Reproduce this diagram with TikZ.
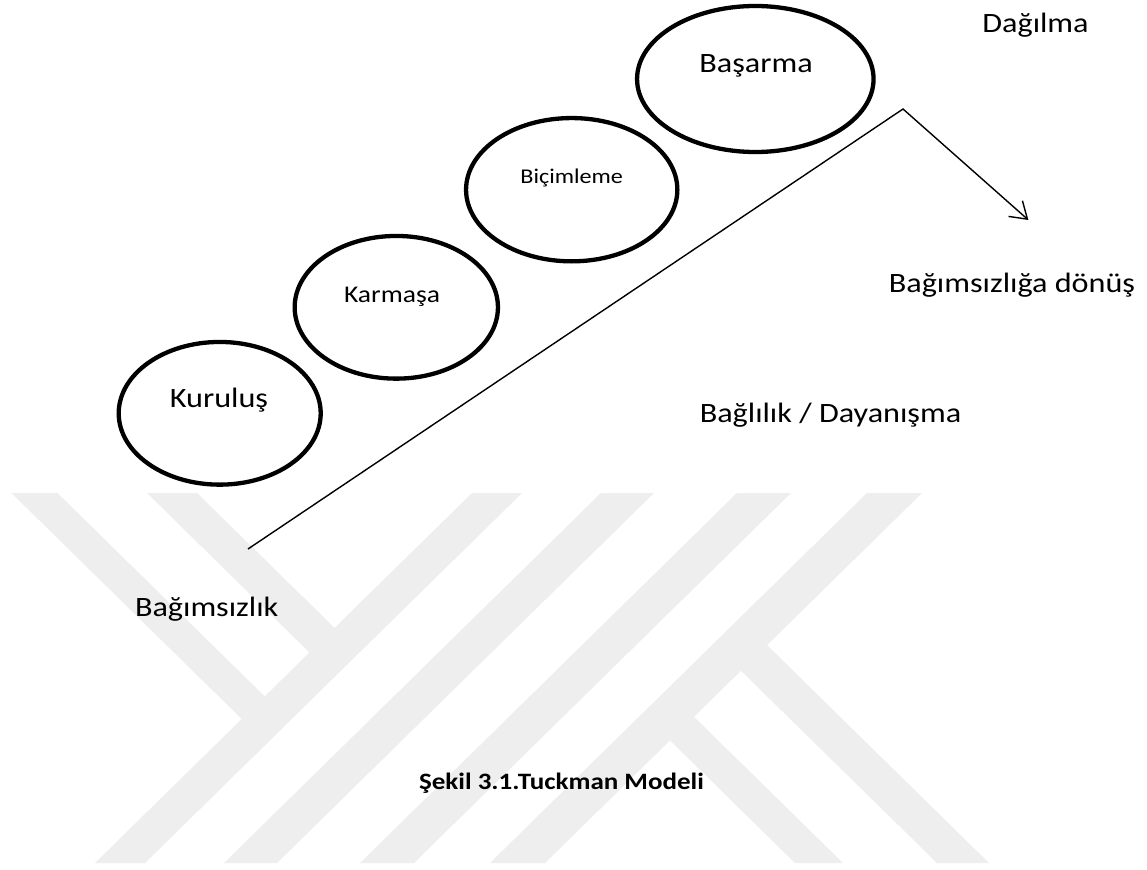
\documentclass[tikz,border=0pt]{standalone}
\usepackage{fontspec}
\setmainfont{Carlito}[FakeStretch=1.15]
\usetikzlibrary{shapes.geometric,arrows.meta}
\definecolor{wmark}{RGB}{238,238,238}
\tikzset{
  stage/.style={draw=black, line width=4.3pt, ellipse, inner sep=0pt, fill=none},
  lab/.style={anchor=base, inner sep=0pt, font=\fontsize{28}{33}\selectfont},
  wm/.style={fill=wmark, draw=none},
  conn/.style={draw=black, line width=1.4pt}
}
\begin{document}
\begin{tikzpicture}[x=1pt,y=-1pt]
\useasboundingbox (0,0) rectangle (1147,869);
\fill[white] (0,0) rectangle (1147,869);
% watermark
\fill[wm] (11.5,493) -- (57.4,493) -- (264.7,696.4) -- (241.75,719) -- cycle;
\fill[wm] (147,493) -- (197,493) -- (334.5,627.9) -- (309.5,652.5) -- cycle;
\fill[wm] (472,493) -- (522,493) -- (145,863) -- (95,863) -- cycle;
\fill[wm] (601,493) -- (654,493) -- (277,863) -- (224,863) -- cycle;
\fill[wm] (737,493) -- (791,493) -- (414,863) -- (360,863) -- cycle;
\fill[wm] (867,493) -- (922,493) -- (545,863) -- (490,863) -- cycle;
\fill[wm] (767,645.1) -- (989,863) -- (937,863) -- (740.9,670.7) -- cycle;
\fill[wm] (693.9,716.8) -- (843,863) -- (795,863) -- (670,740.3) -- cycle;
% stages
\node[stage, minimum width=202pt, minimum height=142.7pt] (kur) at (219.7,413.3) {};
\node[stage, minimum width=203.3pt, minimum height=142.7pt] (kar) at (396.3,307.3) {};
\node[stage, minimum width=211.3pt, minimum height=143.3pt] (bic) at (571.7,189.7) {};
\node[stage, minimum width=236.5pt, minimum height=146pt] (bas) at (755.3,79) {};
\node[lab] (kurt) at (219,407.7) {Kuruluş};
\node[lab, font=\fontsize{24}{29}\selectfont] (kart) at (392,302.3) {Karmaşa};
\node[lab, font=\fontsize{21}{25}\selectfont] (bict) at (571.7,183.3) {Biçimleme};
\node[lab] (bast) at (756,72.7) {Başarma};
% connectors
\coordinate (lo) at (248,549);
\coordinate (apex) at (903,109);
\coordinate (tip) at (1028.4,220);
\draw[conn, -{Straight Barb[length=16pt,width=21pt,line width=1.4pt]}] (lo) -- (apex) -- (tip);
% labels
\node[lab] (dag) at (1035.5,32.3) {Dağılma};
\node[lab] (donus) at (1012,292.5) {Bağımsızlığa dönüş};
\node[lab] (bagl) at (830.5,422.3) {Bağlılık / Dayanışma};
\node[lab] (bagim) at (206.7,616.7) {Bağımsızlık};
\node[lab, font=\bfseries\fontsize{23.5}{28}\selectfont] (cap) at (561.5,789) {Şekil 3.1.Tuckman Modeli};
\end{tikzpicture}
\end{document}
